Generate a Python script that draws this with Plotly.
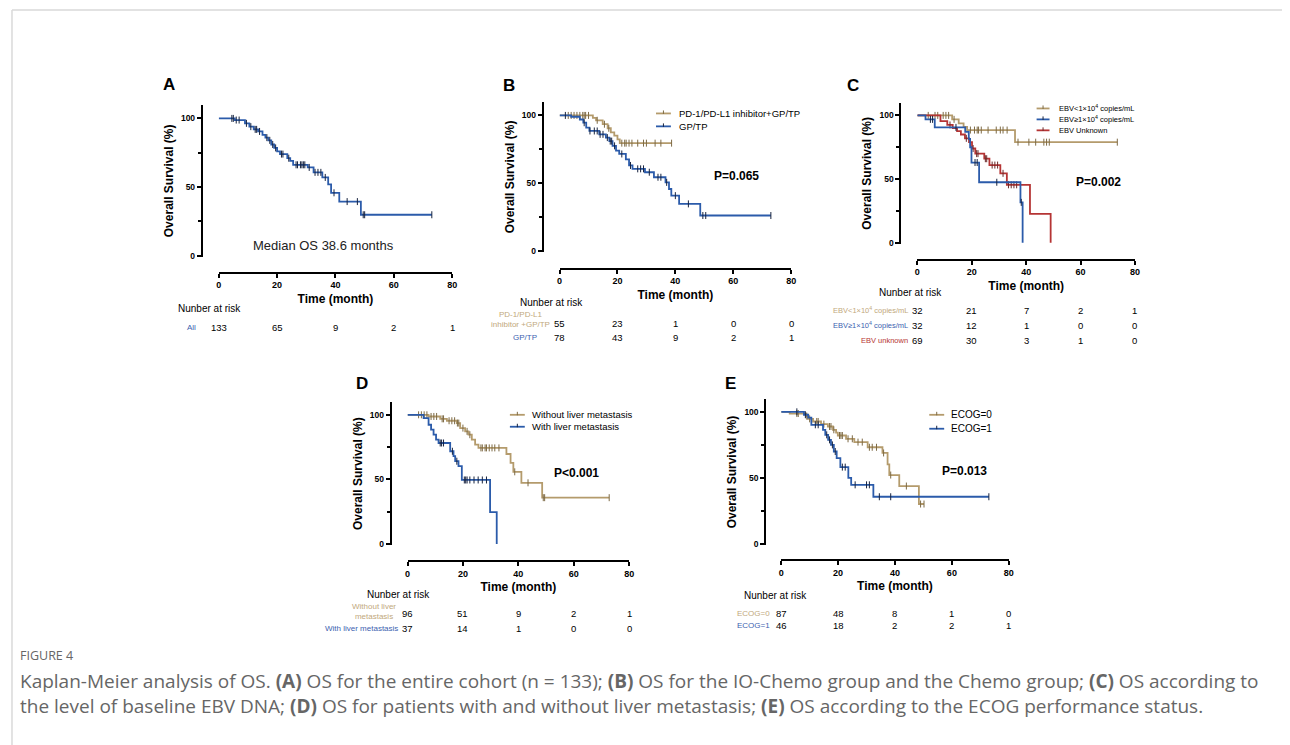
import plotly.graph_objects as go

# ---------------- DATA ----------------
risk_times = [0, 20, 40, 60, 80]

# Panel A: entire cohort
A_time = [0, 5.5, 9.0, 10.5, 12.0, 13.5, 15.0, 16.0, 17.0, 18.0, 19.0, 20.0, 21.0, 23.5, 24.5, 25.5, 30.5, 32.5, 35.5, 37.5, 38.5, 41.3, 48.7]
A_surv = [100, 98.8, 96.4, 94.0, 92.0, 90.5, 88.0, 86.0, 84.0, 81.0, 78.5, 76.0, 74.0, 71.0, 69.0, 66.2, 64.3, 60.7, 57.0, 52.0, 45.8, 39.4, 29.8]
A_end = 73
A_cens = [4.5, 5, 6, 7, 9.5, 11, 12.5, 13, 14, 16.5, 17.5, 18.5, 19.5, 21.5, 22, 24, 26.5, 27, 28, 28.5, 29, 29.5, 31, 33, 34, 35, 36.5, 39.5, 44, 47.5, 49.5, 50, 73]
A_risk = [133, 65, 9, 2, 1]

# Panel B: IO-Chemo vs Chemo
B1_time = [0, 11.5, 12.6, 14.9, 16.6, 17.7, 18.9, 20.0, 20.8]
B1_surv = [100, 98.2, 96.4, 93.5, 90.5, 87.5, 85.0, 82.3, 79.5]
B1_end = 38.7
B1_cens = [3, 4, 5, 6, 7, 8, 8.5, 9, 10, 13, 15.5, 17, 21.5, 22.5, 23, 24, 25, 27, 29, 30, 33, 35, 38.7]
B2_time = [0, 4, 7, 8.2, 9.2, 10.3, 13.7, 16, 17.2, 18.3, 19.5, 20.6, 22.9, 24, 25.2, 29.5, 32.6, 36.6, 37.8, 38.6, 41.3, 48.6]
B2_surv = [100, 99, 97, 94.6, 91, 88.5, 86, 83.6, 81, 77.5, 74, 71.5, 67.5, 63, 60.5, 58, 54.3, 50.5, 45.6, 40.7, 34.6, 26]
B2_end = 73
B2_cens = [2, 8.5, 10.5, 12, 13, 14, 15, 16.5, 17.5, 18, 19, 21.5, 24.5, 27, 28, 29, 31, 34, 35, 37, 40, 44.5, 49.5, 50.5, 73]
B1_risk = [55, 23, 1, 0, 0]
B2_risk = [78, 43, 9, 2, 1]

# Panel C: baseline EBV DNA
C1_time = [0, 12.8, 15.2, 17.0, 18.3, 35.9]
C1_surv = [100, 96.9, 93.8, 91.0, 88.5, 79.0]
C1_end = 73.5
C1_cens = [4, 6.5, 7.5, 9.5, 10.5, 11.5, 13.5, 19.5, 21, 22, 22.5, 23.5, 26, 29, 30.5, 31.5, 33, 37, 41, 43.5, 46.5, 47.5, 48.5, 73.5]
C2_time = [0, 3, 6.4, 17.6, 18.9, 19.4, 19.9, 22.7, 37.9, 38.7]
C2_surv = [100, 96.9, 90.6, 87.0, 81.5, 75.0, 63.0, 47.5, 31.7, 0]
C2_cens = [4.8, 5.6, 14.2, 21.2, 22.0, 29.2, 38.2]
C3_time = [0, 8.5, 11.0, 13.0, 14.6, 16.0, 17.5, 19.0, 20.1, 21.3, 24.6, 26.5, 30.5, 32.9, 41.4, 49.0]
C3_surv = [100, 95.5, 92.5, 90.0, 87.7, 85.0, 82.0, 79.0, 74.0, 70.0, 66.0, 61.0, 54.5, 45.5, 22.7, 0]
C3_cens = [12, 18, 20.5, 21.8, 22.3, 25, 25.5, 27.5, 28.5, 29.5, 31.5, 33.5, 34.5, 35.5, 36.5]
C1_risk = [32, 21, 7, 2, 1]
C2_risk = [32, 12, 1, 0, 0]
C3_risk = [69, 30, 3, 1, 0]

# Panel D: liver metastasis
D1_time = [0, 7.6, 11.8, 14.2, 17.8, 19.0, 20.8, 22.0, 23.2, 24.4, 25.6, 35.7, 37.2, 38.2, 41.1, 48.6]
D1_surv = [100, 98.7, 96.9, 95.4, 93.6, 89.7, 87.2, 84.6, 80.8, 76.9, 74.4, 69.7, 62.8, 55.9, 47.4, 35.9]
D1_end = 72.8
D1_cens = [4, 5, 6, 7, 8.5, 9.5, 10.5, 12.5, 13, 15, 16, 17, 18, 18.5, 20, 21.5, 22.5, 26.5, 27, 28, 28.5, 29.5, 30.5, 31.5, 33, 38.7, 43.5, 49, 49.5, 72.8]
D2_time = [0, 5.8, 7.6, 8.5, 9.4, 10.3, 11.2, 15.4, 16.6, 17.2, 18.4, 19.6, 29.8, 32.2]
D2_surv = [100, 97.4, 92.3, 88.5, 84.6, 80.8, 78.2, 71.8, 68.0, 64.1, 60.3, 49.6, 24.8, 0]
D2_cens = [11.8, 12.3, 13, 16.2, 17.8, 20.5, 21, 21.5, 22.5, 24, 25.5, 27, 28.5]
D1_risk = [96, 51, 9, 2, 1]
D2_risk = [37, 14, 1, 0, 0]

# Panel E: ECOG
E1_time = [0, 3.0, 8.8, 9.4, 11.2, 14.0, 16.4, 18.2, 19.3, 19.9, 22.8, 25.7, 30.4, 35.6, 37.4, 38.0, 41.5, 48.4]
E1_surv = [100, 98.7, 96.7, 94.7, 92.7, 90.7, 88.9, 86.4, 84.3, 82.1, 79.6, 77.1, 73.2, 68.9, 60.2, 52.2, 43.9, 30.3]
E1_end = 50.2
E1_cens = [5.5, 6, 9, 10, 12.5, 13, 15, 17, 17.5, 18.5, 20.5, 21, 21.5, 23.5, 25, 27, 28.5, 31, 32, 33.5, 36, 38.5, 44, 49, 50.2]
E2_time = [0, 8, 9.5, 10.6, 14.7, 15.5, 16.5, 17.5, 18.5, 19.5, 20.8, 23.6, 24.6, 32.4]
E2_surv = [100, 97.8, 95.6, 90.2, 86.4, 82.6, 78.8, 75.0, 70.0, 65.0, 58.2, 50.0, 44.8, 35.8]
E2_end = 73
E2_cens = [5.5, 8.5, 12, 13, 16, 17, 18, 19, 21.5, 22.5, 26, 30, 31, 34.5, 38.5, 73]
E1_risk = [87, 48, 8, 1, 0]
E2_risk = [46, 18, 2, 2, 1]

# ---------------- STYLE ----------------
W, H = 1290, 745
OFF = 8  # page body margin of the exported html
FONT = "Liberation Sans, Arial, Helvetica, sans-serif"
TAN, BLUE, RED = "#B49B6C", "#2B5BAA", "#B53434"
TAN_T, BLUE_T, RED_T = "#BFA87C", "#3D5FB0", "#B53434"
TAN_C, BLUE_C, RED_C = "#7d6a45", "#17233f", "#6a2a2a"


def fx(px):
    return (px - OFF) / W


def fy(py):
    return 1 - (py - OFF) / H


def surv_at(times, survs, t):
    s = survs[0]
    for tt, ss in zip(times, survs):
        if tt <= t:
            s = ss
    return s


# panel geometry in pixels: x0 (t=0), x80 (t=80), y-axis line x, y of 0%, y of 100%, x-axis line y
geo = {
    1: dict(x0=217, x80=452, yl=200, y0=257, y100=119, xl=274),
    2: dict(x0=560, x80=793, yl=543, y0=252, y100=116, xl=270),
    3: dict(x0=920, x80=1139, yl=903, y0=244, y100=116, xl=261),
    4: dict(x0=407, x80=630, yl=390, y0=547, y100=417, xl=564),
    5: dict(x0=783, x80=1012, yl=767, y0=547, y100=414, xl=563),
}

fig = go.Figure()


def ax(i, kind):
    return (kind if i == 1 else f"{kind}{i}")


def add_curve(i, name, times, survs, end, cens, color, ccolor):
    xs = list(times)
    ys = list(survs)
    if end is not None:
        xs.append(end)
        ys.append(survs[-1])
    fig.add_trace(go.Scatter(x=xs, y=ys, mode="lines", name=name, line=dict(color=color, width=1.8, shape="hv"),
                             xaxis=ax(i, "x"), yaxis=ax(i, "y"), showlegend=False, hoverinfo="skip"))
    cy = [surv_at(times, survs, t) for t in cens]
    fig.add_trace(go.Scatter(x=cens, y=cy, mode="markers", name=name + " censored",
                             marker=dict(symbol="line-ns", size=5, line=dict(width=1, color=ccolor)),
                             xaxis=ax(i, "x"), yaxis=ax(i, "y"), showlegend=False, hoverinfo="skip",
                             cliponaxis=False))


add_curve(1, "All", A_time, A_surv, A_end, A_cens, BLUE, BLUE_C)
add_curve(2, "PD-1/PD-L1 inhibitor+GP/TP", B1_time, B1_surv, B1_end, B1_cens, TAN, TAN_C)
add_curve(2, "GP/TP", B2_time, B2_surv, B2_end, B2_cens, BLUE, BLUE_C)
add_curve(3, "EBV<1e4", C1_time, C1_surv, C1_end, C1_cens, TAN, TAN_C)
add_curve(3, "EBV unknown", C3_time, C3_surv, None, C3_cens, RED, RED_C)
add_curve(3, "EBV>=1e4", C2_time, C2_surv, None, C2_cens, BLUE, BLUE_C)
add_curve(4, "Without liver metastasis", D1_time, D1_surv, D1_end, D1_cens, TAN, TAN_C)
add_curve(4, "With liver metastasis", D2_time, D2_surv, None, D2_cens, BLUE, BLUE_C)
add_curve(5, "ECOG=0", E1_time, E1_surv, E1_end, E1_cens, TAN, TAN_C)
add_curve(5, "ECOG=1", E2_time, E2_surv, E2_end, E2_cens, BLUE, BLUE_C)

layout = dict(width=W, height=H, margin=dict(l=0, r=0, t=0, b=0), paper_bgcolor="white",
              plot_bgcolor="rgba(0,0,0,0)", font=dict(family=FONT, color="black"), showlegend=False)

for i, g in geo.items():
    ybot = g["y0"] + (g["y0"] - g["y100"]) * 0.01
    ytop = g["y0"] - 1.1 * (g["y0"] - g["y100"])
    layout[ax(i, "xaxis")] = dict(
        domain=[fx(g["x0"]), fx(g["x80"])], range=[0, 80], anchor="free", position=fy(g["xl"]),
        showline=True, linewidth=2, linecolor="black", ticks="outside", ticklen=4, tickwidth=1.5,
        tickcolor="black", tickvals=[0, 20, 40, 60, 80], showgrid=False, zeroline=False,
        tickfont=dict(family=FONT, size=9, color="black", weight="bold"),
        title=dict(text="Time (month)", font=dict(family=FONT, size=12, color="black", weight="bold"), standoff=4),
        fixedrange=True)
    layout[ax(i, "yaxis")] = dict(
        domain=[fy(ybot), fy(ytop)], range=[-1, 110], anchor="free", position=fx(g["yl"]),
        showline=True, linewidth=2, linecolor="black", ticks="outside", ticklen=4, tickwidth=1.5,
        tickcolor="black", tickvals=[0, 50, 100], showgrid=False, zeroline=False,
        minor=dict(tickvals=[25, 75], ticks="outside", ticklen=3, tickwidth=1.5, tickcolor="black"),
        tickfont=dict(family=FONT, size=8.5, color="black", weight="bold"),
        title=dict(text="Overall Survival (%)", font=dict(family=FONT, size=12, color="black", weight="bold"), standoff=4),
        fixedrange=True)

fig.update_layout(**layout)

ann = []
shapes = []


def text(x, y, s, size, color="black", bold=False, xanchor="center", align="center", family=FONT):
    ann.append(dict(x=x, y=y, xref="paper", yref="paper", text=s, showarrow=False, xanchor=xanchor,
                    yanchor="middle", align=align,
                    font=dict(family=family, size=size, color=color, weight="bold" if bold else "normal")))


# legends: (label, line color, tick color, sample start px, sample end px, text px, row y px, font size)
leg_specs = [
    ("PD-1/PD-L1 inhibitor+GP/TP", TAN, TAN_C, 657, 672, 678, 114, 9.5),
    ("GP/TP", BLUE, BLUE_C, 657, 672, 678, 127, 9.5),
    ("EBV&lt;1×10<sup>4</sup> copies/mL", TAN, TAN_C, 1040, 1053, 1061, 109, 7.5),
    ("EBV≥1×10<sup>4</sup> copies/mL", BLUE, BLUE_C, 1040, 1053, 1061, 120, 7.5),
    ("EBV Unknown", RED, RED_C, 1040, 1053, 1061, 131, 7.5),
    ("Without liver metastasis", TAN, TAN_C, 510, 525, 530, 417, 9.5),
    ("With liver metastasis", BLUE, BLUE_C, 510, 525, 530, 429, 9.5),
    ("ECOG=0", TAN, TAN_C, 932, 947, 952, 417, 10),
    ("ECOG=1", BLUE, BLUE_C, 932, 947, 952, 431, 10),
]
for name, col, ccol, s0, s1, tx, ty, sz in leg_specs:
    shapes.append(dict(type="line", xref="paper", yref="paper", x0=fx(s0), x1=fx(s1), y0=fy(ty), y1=fy(ty),
                       line=dict(color=col, width=1.8)))
    mid = (s0 + s1) / 2
    shapes.append(dict(type="line", xref="paper", yref="paper", x0=fx(mid), x1=fx(mid), y0=fy(ty - 3), y1=fy(ty + 0.5),
                       line=dict(color=ccol, width=1)))
    text(fx(tx), fy(ty), name, sz, xanchor="left", align="left")

# panel letters
for s, (px, py) in zip("ABCDE", [(167, 85), (509, 86), (855, 86), (361, 386), (732, 386)]):
    text(fx(px), fy(py), s, 17, bold=True)

# p-values / median
pvals = [("P=0.065", 738, 177), ("P=0.002", 1102, 183), ("P&lt;0.001", 577, 476), ("P=0.013", 967, 474)]
for s, px, py in pvals:
    text(fx(px), fy(py), s, 12, bold=True)
text(fx(322), fy(247), "Median OS 38.6 months", 13, color="#222")

# number at risk headers
for px, py in [(208, 310), (552, 304), (913, 294), (398, 598), (777, 599)]:
    text(fx(px), fy(py), "Nunber at risk", 10)


def risk_row(i, values, py, size=9.5):
    for t, v in zip(risk_times, values):
        ann.append(dict(x=t, y=fy(py), xref=ax(i, "x"), yref="paper", text=str(v), showarrow=False,
                        xanchor="center", yanchor="middle", font=dict(family=FONT, size=size, color="black")))


# A
text(fx(196), fy(329), "All", 8, color=BLUE_T, xanchor="right")
risk_row(1, A_risk, 329)
# B
text(fx(521), fy(321.5), "PD-1/PD-L1<br>inhibitor +GP/TP", 8, color=TAN_T)
risk_row(2, B1_risk, 325)
text(fx(525), fy(339), "GP/TP", 8, color=BLUE_T)
risk_row(2, B2_risk, 339)
# C
text(fx(913), fy(312), "EBV&lt;1×10<sup>4</sup> copies/mL", 7.5, color=TAN_T, xanchor="right")
risk_row(3, C1_risk, 312)
text(fx(913), fy(327), "EBV≥1×10<sup>4</sup> copies/mL", 7.5, color=BLUE_T, xanchor="right")
risk_row(3, C2_risk, 327)
text(fx(913), fy(342), "EBV unknown", 7.5, color=RED_T, xanchor="right")
risk_row(3, C3_risk, 342)
# D
text(fx(397), fy(614.5), "Without liver<br>metastasis", 8, color=TAN_T, xanchor="right")
risk_row(4, D1_risk, 617)
text(fx(399), fy(632), "With liver metastasis", 8, color=BLUE_T, xanchor="right")
risk_row(4, D2_risk, 632)
# E
text(fx(774), fy(617), "ECOG=0", 8, color=TAN_T, xanchor="right")
risk_row(5, E1_risk, 617)
text(fx(774), fy(629), "ECOG=1", 8, color=BLUE_T, xanchor="right")
risk_row(5, E2_risk, 629)

# caption
CAP = "Open Sans, Lato, sans-serif"
text(fx(15), fy(659), "FIGURE 4", 12.5, color="#666", xanchor="left", family=CAP)
text(fx(15), fy(697.5),
     "Kaplan-Meier analysis of OS. <b>(A)</b> OS for the entire cohort (n = 133); <b>(B)</b> OS for the IO-Chemo group and the Chemo group; <b>(C)</b> OS according to"
     "<br>the level of baseline EBV DNA; <b>(D)</b> OS for patients with and without liver metastasis; <b>(E)</b> OS according to the ECOG performance status.",
     19, color="#666", xanchor="left", align="left", family=CAP)

shapes += [
    dict(type="line", xref="paper", yref="paper", x0=fx(9), x1=1, y0=fy(10), y1=fy(10),
         line=dict(color="#d9d9d9", width=1.5)),
    dict(type="line", xref="paper", yref="paper", x0=fx(9), x1=fx(9), y0=fy(10), y1=0,
         line=dict(color="#d9d9d9", width=1.5)),
]
fig.update_layout(annotations=ann, shapes=shapes)
fig.write_html("out.html")
